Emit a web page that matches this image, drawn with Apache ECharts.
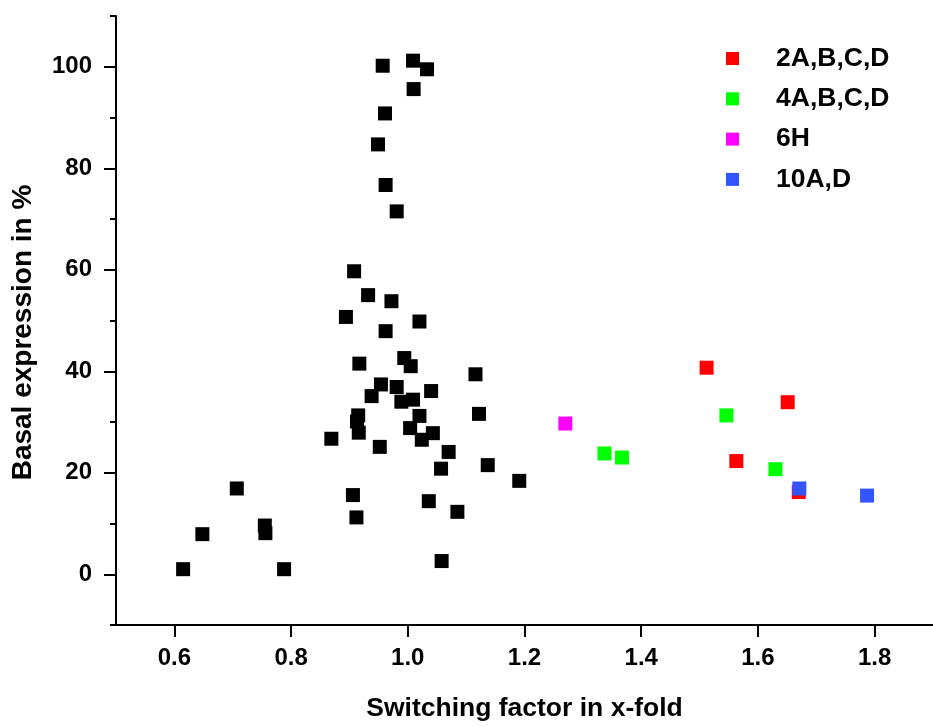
<!DOCTYPE html>
<html>
<head>
<meta charset="utf-8">
<script src="https://cdn.jsdelivr.net/npm/echarts@6/dist/echarts.min.js"></script>
<style>
  html, body { margin: 0; padding: 0; background: #fff; overflow: hidden; }
  #chart { width: 933px; height: 727px; }
</style>
</head>
<body>
<div id="chart"></div>
<script>
// Switching factor (x) vs. basal expression (%) per construct group
const seriesNames = ['2A,B,C,D', '4A,B,C,D', '6H', '10A,D'];

const baseX = [0.615, 0.648, 0.707, 0.755, 0.756, 0.788, 0.869, 0.894, 0.906, 0.908,
               0.912, 0.913, 0.915, 0.916, 0.917, 0.932, 0.938, 0.949, 0.952, 0.954,
               0.957, 0.961, 0.962, 0.962, 0.972, 0.981, 0.981, 0.989, 0.994, 1.004,
               1.005, 1.009, 1.009, 1.010, 1.020, 1.020, 1.024, 1.033, 1.036, 1.040,
               1.043, 1.057, 1.058, 1.070, 1.085, 1.116, 1.122, 1.137, 1.191];
const baseY = [1.0, 7.9, 16.9, 9.6, 8.1, 1.0, 26.7, 50.7, 15.6, 59.7,
               11.2, 30.1, 31.3, 27.9, 41.5, 55.0, 35.1, 84.7, 25.1, 37.4,
               100.2, 90.8, 76.7, 47.9, 53.8, 71.5, 36.9, 34.0, 42.6, 28.8,
               41.0, 101.2, 34.4, 95.6, 49.8, 31.2, 26.5, 99.5, 14.4, 36.1,
               27.8, 20.8, 2.6, 24.1, 12.3, 39.4, 31.6, 21.5, 18.4];

const g2X = [1.512, 1.651, 1.563, 1.670];
const g2Y = [40.7, 33.9, 22.3, 16.2];

const g4X = [1.337, 1.367, 1.546, 1.630];
const g4Y = [23.8, 23.0, 31.3, 20.7];

const g6X = [1.270];
const g6Y = [29.7];

const g10X = [1.671, 1.787];
const g10Y = [16.9, 15.5];

const xTicks = [0.6, 0.8, 1.0, 1.2, 1.4, 1.6, 1.8];
const yTicks = [0, 20, 40, 60, 80, 100];
const yMinorTicks = [-10, 10, 30, 50, 70, 90, 110];

const pairs = (xs, ys) => xs.map((x, i) => [x, ys[i]]);

const FONT = '"Liberation Sans", Arial, sans-serif';
const chart = echarts.init(document.getElementById('chart'), null, { renderer: 'canvas' });

const lineStyle = { color: '#000', width: 2 };

function scatter(name, data, color) {
  return {
    name: name,
    type: 'scatter',
    data: data,
    symbol: 'rect',
    symbolSize: 14,
    itemStyle: { color: color, opacity: 1 },
    xAxisIndex: 0,
    yAxisIndex: 0,
    emphasis: { disabled: true }
  };
}

chart.setOption({
  animation: false,
  backgroundColor: '#fff',
  grid: { left: 116, right: -8, top: 16, bottom: 100, containLabel: false },
  legend: {
    data: seriesNames,
    orient: 'vertical',
    left: 721,
    top: 40,
    itemWidth: 13,
    itemHeight: 13,
    itemGap: 13.3,
    icon: 'rect',
    textStyle: {
      fontFamily: FONT, fontWeight: 'bold', fontSize: 26.5, color: '#000',
      lineHeight: 27, padding: [0, 0, 0, 32]
    }
  },
  xAxis: {
    type: 'value',
    min: 0.5,
    max: 1.9,
    interval: 0.1,
    name: 'Switching factor in x-fold',
    nameLocation: 'middle',
    nameGap: 70,
    nameTextStyle: { fontFamily: FONT, fontWeight: 'bold', fontSize: 26.5, color: '#000' },
    axisLine: { show: true, onZero: false, lineStyle: lineStyle },
    axisTick: { show: true, length: 12, lineStyle: lineStyle, customValues: xTicks },
    axisLabel: {
      margin: 21, fontFamily: FONT, fontWeight: 'bold', fontSize: 24, color: '#000',
      customValues: xTicks,
      formatter: v => Number(v).toFixed(1)
    },
    splitLine: { show: false }
  },
  yAxis: [{
    type: 'value',
    min: -10,
    max: 110,
    interval: 10,
    name: 'Basal expression in %',
    nameLocation: 'middle',
    nameGap: 79,
    // title sits a little below the axis midpoint
    nameTextStyle: {
      fontFamily: FONT, fontWeight: 'bold', fontSize: 28, color: '#000',
      padding: [0, 24, 0, 0]
    },
    axisLine: { show: true, onZero: false, lineStyle: lineStyle },
    axisTick: { show: true, length: 12, lineStyle: lineStyle, customValues: yTicks },
    axisLabel: {
      margin: 24, fontFamily: FONT, fontWeight: 'bold', fontSize: 24, color: '#000',
      customValues: yTicks,
      formatter: v => String(Math.round(v))
    },
    splitLine: { show: false }
  }, {
    // short intermediate ticks at the odd tens
    type: 'value',
    position: 'left',
    min: -10,
    max: 110,
    interval: 10,
    axisLine: { show: false },
    axisTick: { show: true, length: 6, lineStyle: lineStyle, customValues: yMinorTicks },
    axisLabel: { show: false },
    splitLine: { show: false }
  }],
  series: [
    scatter('base', pairs(baseX, baseY), '#000000'),
    scatter(seriesNames[0], pairs(g2X, g2Y), '#ff0000'),
    scatter(seriesNames[1], pairs(g4X, g4Y), '#00ff00'),
    scatter(seriesNames[2], pairs(g6X, g6Y), '#ff00ff'),
    scatter(seriesNames[3], pairs(g10X, g10Y), '#3355ff')
  ]
});
</script>
</body>
</html>
